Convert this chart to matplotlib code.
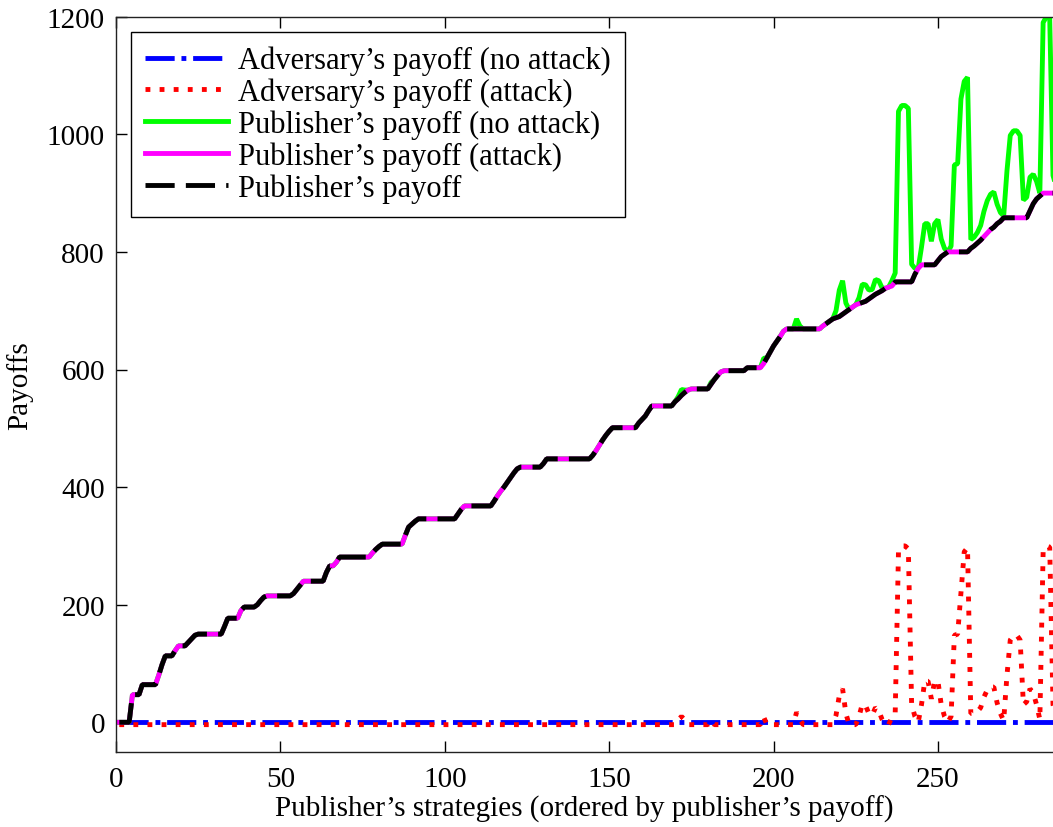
import matplotlib
matplotlib.use('Agg')
import matplotlib.pyplot as plt
import numpy as np

# ---------------- data ----------------
strategies = np.arange(1, 289)

pub_attack = (
    [0]*4 + [47]*3 + [64]*5 + [80, 98] + [113]*3 + [122] + [130]*3 + [136, 142, 148] + [150]*8 +
    [163] + [177]*4 + [190] + [196]*4 + [200, 207, 213] + [215]*8 + [219, 226, 233] + [240]*7 +
    [255] + [266]*2 + [272] + [281]*10 + [288, 294, 299] + [303]*7 + [318, 332, 337, 342] + [346]*12 +
    [354, 362] + [368]*9 + [376, 385, 393, 400, 408, 416, 424, 431] + [434]*7 + [440] + [448]*14 +
    [454, 462, 471, 480, 488, 495] + [501]*8 + [509, 515, 521, 530] + [538]*7 +
    [545, 550, 556, 561, 565] + [567]*6 +
    [575, 583, 590, 596] + [598]*7 + [603]*5 + [610, 620, 630, 640, 648, 656, 665] + [669]*11 +
    [674, 678, 682, 686, 688, 690, 694, 698, 702, 706, 710, 712, 714, 716, 720, 724, 728, 731,
     734, 738, 740, 742] +
    [749]*6 + [762, 772] + [778]*5 + [785, 792, 796] + [800]*7 +
    [806, 810, 815, 820, 826, 832, 838, 842, 848, 852] +
    [858]*8 + [870, 882, 890, 895] + [900]*7
)

pub_payoff = (
    [0]*4 + [47]*3 + [64]*5 + [80, 98] + [113]*3 + [122] + [130]*3 + [136, 142, 148] + [150]*8 +
    [163] + [177]*4 + [190] + [196]*4 + [200, 207, 213] + [215]*8 + [219, 226, 233] + [240]*7 +
    [255] + [266]*2 + [272] + [281]*10 + [288, 294, 299] + [303]*7 + [318, 332, 337, 342] + [346]*12 +
    [354, 362] + [368]*9 + [376, 385, 393, 400, 408, 416, 424, 431] + [434]*7 + [440] + [448]*14 +
    [454, 462, 471, 480, 488, 495] + [501]*8 + [509, 515, 521, 530] + [538]*7 +
    [545, 550, 556, 561, 565] + [567]*6 +
    [575, 583, 590, 596] + [598]*7 + [603]*5 + [610, 620, 630, 640, 648, 656, 665] + [669]*11 +
    [674, 678, 682, 686, 688, 690, 694, 698, 702, 706, 710, 712, 714, 716, 720, 724, 728, 731,
     734, 738, 740, 742] +
    [749]*6 + [762, 772] + [778]*5 + [785, 792, 796] + [800]*7 +
    [806, 810, 815, 820, 826, 832, 838, 842, 848, 852] +
    [858]*8 + [870, 882, 890, 895] + [900]*7
)

pub_noattack = (
    [0]*4 + [47]*3 + [64]*5 + [80, 98] + [113]*3 + [122] + [130]*3 + [136, 142, 148] + [150]*8 +
    [163] + [177]*4 + [190] + [196]*4 + [200, 207, 213] + [215]*8 + [219, 226, 233] + [240]*7 +
    [255] + [266]*2 + [272] + [281]*10 + [288, 294, 299] + [303]*7 + [318, 332, 337, 342] + [346]*12 +
    [354, 362] + [368]*9 + [376, 385, 393, 400, 408, 416, 424, 431] + [434]*7 + [440] + [448]*14 +
    [454, 462, 471, 480, 488, 495] + [501]*8 + [509, 515, 521, 530] + [538]*7 + [545] +
    [554, 566, 565, 565] + [567]*6 + [578, 583, 590, 596] + [598]*7 + [603]*5 +
    [619, 620, 630, 640, 648, 656, 665] + [669]*3 + [686, 674] + [669]*6 +
    [674, 678, 682, 686, 700, 735, 751, 713, 702, 706,
     710, 722, 745, 744, 735, 736, 753, 751, 739, 738,
     740, 751, 764, 1039, 1049, 1049, 1044, 779, 772, 772,
     808, 848, 848, 818, 848, 855, 822, 806, 800, 810,
     948, 950, 1060, 1090, 1097, 821, 825, 833, 845, 869,
     887, 898, 902, 881, 867, 861, 938, 998, 1006, 1006,
     998, 888, 893, 927, 932, 920, 900, 1190, 1200, 1198,
     930, 910, 900, 900]
)

adv_attack = (
    [-4]*170 + [4, 10, 4] + [-4]*7 + [3] + [-4]*15 + [9] + [-4]*9 + [17, 5] + [-4]*10 +
    [12, 45, 57, 15] + [-4]*3 + [10, 31, 28, 15, 12, 25, 20, 5] + [-4]*2 +
    [9, 15, 290, 300, 300, 295, 30, 10, 0,
     30, 70, 70, 40, 70, 70, 30, 10, 0, 10,
     148, 150, 220, 290, 297,
     15, 15, 18, 25, 43, 55, 60, 60, 33, 15, 3,
     80, 140, 148, 148, 140,
     30, 35, 57, 50, 30, 5,
     290, 300, 298, 30,
     10, 0, 0]
)

adv_noattack = [0]*288

labels = ["Adversary\u2019s payoff (no attack)",
          "Adversary\u2019s payoff (attack)",
          "Publisher\u2019s payoff (no attack)",
          "Publisher\u2019s payoff (attack)",
          "Publisher\u2019s payoff"]
x_ticks = [0, 50, 100, 150, 200, 250]
y_ticks = [0, 200, 400, 600, 800, 1000, 1200]

# ---------------- figure ----------------
plt.rcParams['font.family'] = ['Liberation Serif', 'DejaVu Serif']
fig = plt.figure(figsize=(10.53, 8.28), dpi=100)
W, H = 1053, 828
left, right, top, bottom = 116, 1053, 17.7, 752.7
ax = fig.add_axes([left / W, (H - bottom) / H, (right - left) / W, (bottom - top) / H])

lw = 3.5
common = dict(lw=lw, solid_joinstyle='bevel', dash_joinstyle='bevel')
ax.plot(strategies, adv_noattack, color='#0000ff', linestyle=(0, (6, 1.4, 1, 1.4)), label=labels[0], **common)
ax.plot(strategies, adv_attack, color='#ff0000', linestyle=(0, (1, 1.9)), label=labels[1], **common)
ax.plot(strategies, pub_noattack, color='#00ff00', label=labels[2], **common)
ax.plot(strategies, pub_attack, color='#ff00ff', label=labels[3], **common)
ax.plot(strategies, pub_payoff, color='black', linestyle=(0, (6, 2.3)), label=labels[4], **common)

ax.set_xlim(0, 285)
ax.set_ylim(-50, 1200)
ax.set_xticks(x_ticks)
ax.set_yticks(y_ticks)
ax.tick_params(direction='in', length=8, width=1, top=True, right=False,
               labelsize=21, colors='black')
ax.tick_params(axis='x', pad=10)
ax.tick_params(axis='y', pad=8)
ax.spines['right'].set_visible(False)
for s in ['left', 'top', 'bottom']:
    ax.spines[s].set_linewidth(1.0)
    ax.spines[s].set_color('#222222')

ax.set_xlabel("Publisher\u2019s strategies (ordered by publisher\u2019s payoff)", fontsize=21, labelpad=2)
ax.set_ylabel("Payoffs", fontsize=21, labelpad=10)

leg = ax.legend(loc='upper left', fontsize=22, frameon=True, fancybox=False,
                edgecolor='black', framealpha=1, handlelength=2.7, handletextpad=0.35,
                labelspacing=0.08, borderpad=0.45, borderaxespad=0.5)
leg.get_frame().set_linewidth(1.0)

fig.savefig('out.png', dpi=100)
